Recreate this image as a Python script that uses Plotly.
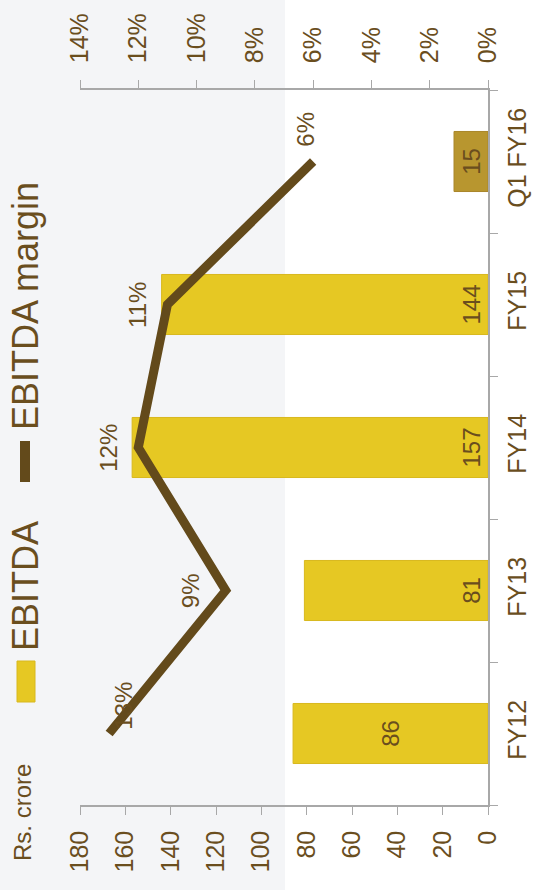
import plotly.graph_objects as go

# EBITDA (Rs. crore) and EBITDA margin by period
periods = ["FY12", "FY13", "FY14", "FY15", "Q1 FY16"]
ebitda = [86, 81, 157, 144, 15]
margin = [0.13, 0.09, 0.12, 0.11, 0.06]
margin_labels = ["13%", "9%", "12%", "11%", "6%"]
value_ticks = [0, 20, 40, 60, 80, 100, 120, 140, 160, 180]
pct_ticks = [0, 0.02, 0.04, 0.06, 0.08, 0.10, 0.12, 0.14]

BROWN = "#6A4E1E"
LINE = "#634A1B"
GOLD = "#E6C823"
GOLD_EDGE = "#D8B81E"
DARK_GOLD = "#B8962F"
AXIS = "#A8A8A8"
FONT = "Liberation Sans, Arial, sans-serif"

# plot-area pixel geometry (figure is 537 x 890)
W, H = 537, 890
L, R, T, B = 80, 488, 90, 805


def px(x):
    return (x - L) / (R - L)


def py(y):
    return (B - y) / (B - T)


fig = go.Figure()

# bars: FY12 label centred, FY13-FY15 labels at base, Q1 FY16 darker bar
groups = [([0], GOLD, "middle"), ([1, 2, 3], GOLD, "start"), ([4], DARK_GOLD, "middle")]
for idx, col, anchor in groups:
    fig.add_trace(go.Bar(
        x=[ebitda[i] for i in idx],
        y=[periods[i] for i in idx],
        orientation="h",
        width=0.42,
        marker=dict(color=col, line=dict(color=GOLD_EDGE if col == GOLD else "#A9862A", width=1)),
        text=[str(ebitda[i]) for i in idx],
        textposition="inside",
        insidetextanchor=anchor,
        textangle=-90,
        textfont=dict(size=24, color=BROWN, family=FONT),
        showlegend=False,
        xaxis="x", yaxis="y",
    ))

# margin line on the percentage axis
fig.add_trace(go.Scatter(
    x=margin, y=periods, mode="lines",
    line=dict(color=LINE, width=9),
    xaxis="x2", yaxis="y", showlegend=False,
))

# margin labels
shifts = [(14, 28), (-35, 0), (-30, 0), (-30, 0), (-8, 32)]
for m, p, lab, (dx, dy) in zip(margin, periods, margin_labels, shifts):
    fig.add_annotation(x=m, y=p, xref="x2", yref="y", text=lab, showarrow=False,
                       textangle=-90, xshift=dx, yshift=dy,
                       xanchor="center", yanchor="middle",
                       font=dict(size=24, color=BROWN, family=FONT))

# light backdrop on the left half
fig.add_shape(type="rect", xref="paper", yref="paper", layer="below",
              x0=px(0), x1=px(285), y0=py(H), y1=py(0),
              fillcolor="#F4F5F7", line=dict(width=0))

# legend (drawn rotated)
fig.add_shape(type="line", xref="paper", yref="paper",
              x0=px(25), x1=px(25), y0=py(482), y1=py(441),
              line=dict(color=LINE, width=10))
fig.add_shape(type="rect", xref="paper", yref="paper",
              x0=px(17), x1=px(35), y0=py(702), y1=py(661),
              fillcolor=GOLD, line=dict(color=GOLD_EDGE, width=1))

legend_text = [("EBITDA margin", 25, 306, 36), ("EBITDA", 25, 586, 36), ("Rs. crore", 22, 813, 24)]
for txt, cx, cy, size in legend_text:
    fig.add_annotation(x=px(cx), y=py(cy), xref="paper", yref="paper", text=txt,
                       showarrow=False, textangle=-90, xanchor="center", yanchor="middle",
                       font=dict(size=size, color=BROWN, family=FONT))

tickfont = dict(size=25, color=BROWN, family=FONT)
common = dict(tickangle=-90, tickfont=tickfont, showline=True, linecolor=AXIS, linewidth=1.5,
              ticks="outside", ticklen=8, tickcolor=AXIS, showgrid=False, automargin=False)
fig.update_layout(
    width=W, height=H,
    margin=dict(l=L, r=W - R, t=T, b=H - B, autoexpand=False),
    paper_bgcolor="white", plot_bgcolor="rgba(0,0,0,0)",
    barmode="overlay",
    xaxis=dict(range=[180, 0], tickvals=value_ticks, ticktext=[str(v) for v in value_ticks],
               zeroline=False, ticklabelstandoff=6, **common),
    xaxis2=dict(range=[0.14, 0], overlaying="x", side="top", anchor="y",
                tickvals=pct_ticks, ticktext=[f"{round(v * 100)}%" for v in pct_ticks],
                zeroline=False, ticklabelstandoff=12, **common),
    yaxis=dict(type="category", categoryorder="array", categoryarray=periods,
               range=[-0.5, 4.5], side="right", tickson="boundaries",
               ticklabelstandoff=6, **common),
)

fig.write_html("out.html")
